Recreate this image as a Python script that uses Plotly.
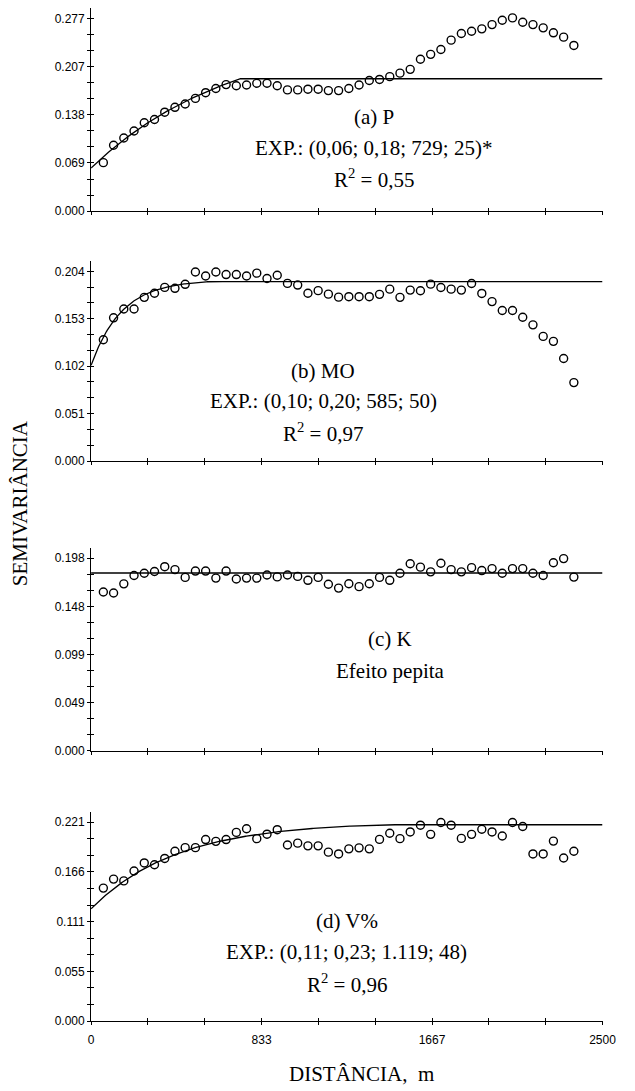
import numpy as np
import plotly.graph_objects as go

# Lag distances (m) of the experimental semivariograms
DIST = [60, 110, 160, 210, 260, 310, 360, 410, 460, 510,
        560, 610, 660, 710, 760, 810, 860, 910, 960, 1010,
        1060, 1110, 1160, 1210, 1260, 1310, 1360, 1410, 1460, 1510,
        1560, 1610, 1660, 1710, 1760, 1810, 1860, 1910, 1960, 2010,
        2060, 2110, 2160, 2210, 2260, 2310, 2360]

# Experimental semivariances
gamma_P = [0.0696, 0.0946, 0.105, 0.115, 0.1268, 0.1315, 0.142, 0.149, 0.1537, 0.1618,
           0.170, 0.176, 0.1816, 0.180, 0.181, 0.1835, 0.1835, 0.180, 0.174, 0.174,
           0.175, 0.175, 0.173, 0.173, 0.176, 0.181, 0.1875, 0.189, 0.193, 0.198,
           0.2035, 0.218, 0.225, 0.232, 0.2454, 0.2549, 0.2582, 0.2616, 0.2677, 0.274,
           0.2773, 0.271, 0.2677, 0.263, 0.2559, 0.2497, 0.2378]
gamma_MO = [0.1304, 0.154, 0.1635, 0.1635, 0.176, 0.1804, 0.1867, 0.1857, 0.190, 0.2033,
            0.199, 0.2033, 0.2005, 0.2005, 0.199, 0.202, 0.1963, 0.1998, 0.191, 0.1892,
            0.1804, 0.1832, 0.1794, 0.1762, 0.1767, 0.1767, 0.1767, 0.1792, 0.1848, 0.176,
            0.1838, 0.1831, 0.1902, 0.1866, 0.1848, 0.1838, 0.1909, 0.1802, 0.1714, 0.1618,
            0.1618, 0.1546, 0.1464, 0.134, 0.1287, 0.1102, 0.0843]
gamma_K = [0.163, 0.162, 0.1714, 0.180, 0.1823, 0.184, 0.189, 0.186, 0.178, 0.1845,
           0.1845, 0.1773, 0.1845, 0.1763, 0.1773, 0.1773, 0.1805, 0.1785, 0.1805, 0.179,
           0.175, 0.178, 0.171, 0.167, 0.1715, 0.1685, 0.1715, 0.178, 0.175, 0.1823,
           0.192, 0.1885, 0.1837, 0.1925, 0.186, 0.1837, 0.188, 0.185, 0.187, 0.1823,
           0.187, 0.187, 0.1823, 0.180, 0.193, 0.1973, 0.1783]
gamma_V = [0.148, 0.158, 0.156, 0.167, 0.176, 0.174, 0.181, 0.189, 0.193, 0.193,
           0.202, 0.200, 0.202, 0.210, 0.214, 0.203, 0.208, 0.213, 0.196, 0.198,
           0.195, 0.195, 0.188, 0.186, 0.1917, 0.1928, 0.1917, 0.2022, 0.209, 0.203,
           0.2105, 0.218, 0.2078, 0.221, 0.218, 0.2033, 0.2078, 0.2135, 0.2105, 0.206,
           0.221, 0.2165, 0.186, 0.186, 0.2003, 0.1815, 0.189]

# Fitted exponential models, drawn rising to the sill and flat beyond it:
# (nugget, sill, distance where the sill is reached, curvature distance), in m
model_P = (0.062, 0.190, 729, 700)
model_MO = (0.103, 0.193, 585, 150)
model_K = (0.1825, 0.1825, 1, 1)      # pure nugget effect
model_V = (0.125, 0.2185, 1430, 420)

# Axis tick labels
ytop = [0.2766, 0.204, 0.1976, 0.2213]
ytext = [["0.000", "0.069", "0.138", "0.207", "0.277"],
         ["0.000", "0.051", "0.102", "0.153", "0.204"],
         ["0.000", "0.049", "0.099", "0.148", "0.198"],
         ["0.000", "0.055", "0.111", "0.166", "0.221"]]
xtext = ["0", "833", "1667", "2500"]
XMAX = 2500

panel_text = [
    ["(a) P", "EXP.: (0,06; 0,18; 729; 25)*", "R<sup>2</sup> = 0,55"],
    ["(b) MO", "EXP.: (0,10; 0,20; 585; 50)", "R<sup>2</sup> = 0,97"],
    ["(c) K", "Efeito pepita"],
    ["(d) V%", "EXP.: (0,11; 0,23; 1.119; 48)", "R<sup>2</sup> = 0,96"],
]

W, H = 635, 1091
# pixel layout of each panel: (top of y axis, x axis line)
panel_px = [(8.3, 212.5), (263, 464), (551.7, 755.7), (817, 1027.7)]
x_px = (90.5, 616)
# text block centre x and line y positions (px)
text_px = [(381, [118, 149, 180]), (329, [373, 404, 435]),
           (398, [643, 675]), (353, [927, 958, 990])]

series = [gamma_P, gamma_MO, gamma_K, gamma_V]
models = [model_P, model_MO, model_K, model_V]

SERIF = "Liberation Serif, Times New Roman, serif"
SANS = "Liberation Sans, Arial, sans-serif"


def model_curve(h, nugget, sill, rng, b):
    rise = (1 - np.exp(-h / b)) / (1 - np.exp(-rng / b))
    return np.where(h < rng, nugget + (sill - nugget) * rise, sill)


fig = go.Figure()
layout = {}
xdom = [x_px[0] / W, x_px[1] / W]
xstep = XMAX / 9
xticks_all = [i * xstep for i in range(10)]
xticks_lab = [i * xstep for i in range(0, 10, 3)]
annotations = []
tickstyle = dict(tickcolor="black", tickwidth=1, ticklen=3)

for k in range(4):
    n = k + 1
    ov = k + 5
    top_px, bot_px = panel_px[k]
    ydom = [1 - bot_px / H, 1 - top_px / H]
    ymax = ytop[k] / 0.95
    ystep = ytop[k] / 12
    yticks_all = [j * ystep for j in range(13)]
    yticks_lab = [j * ystep for j in range(0, 13, 3)]
    last = k == 3

    sfx = "" if n == 1 else str(n)
    h = np.linspace(0, XMAX, 600)
    fig.add_trace(go.Scatter(x=h, y=model_curve(h, *models[k]), mode="lines",
                             line=dict(color="black", width=1.3),
                             xaxis="x" + sfx, yaxis="y" + sfx, showlegend=False,
                             hoverinfo="skip"))
    fig.add_trace(go.Scatter(x=DIST, y=series[k], mode="markers",
                             marker=dict(symbol="circle-open", size=8,
                                         color="black", line=dict(width=1.4)),
                             xaxis="x" + sfx, yaxis="y" + sfx, showlegend=False))
    # companion axes carrying the inner half of each tick mark
    fig.add_trace(go.Scatter(x=[None], y=[None], xaxis="x%d" % ov, yaxis="y%d" % ov,
                             showlegend=False))

    xa = dict(domain=xdom, anchor="y" + sfx, range=[0, XMAX], showgrid=False,
              zeroline=False, ticks="outside", showline=True, linecolor="black",
              linewidth=1, **tickstyle)
    if last:
        xa.update(tickmode="array", tickvals=xticks_lab, ticktext=xtext,
                  ticklabelstandoff=4,
                  tickfont=dict(family=SANS, size=12, color="black"),
                  minor=dict(tickmode="array", tickvals=xticks_all, ticks="outside",
                             **tickstyle))
    else:
        xa.update(tickmode="array", tickvals=xticks_all, showticklabels=False)
    layout["xaxis" + sfx] = xa

    layout["yaxis" + sfx] = dict(domain=ydom, anchor="x" + sfx, range=[0, ymax],
                                 showgrid=False, zeroline=False,
                                 tickmode="array", tickvals=yticks_lab, ticktext=ytext[k],
                                 ticks="outside", showline=True, linecolor="black",
                                 linewidth=1,
                                 tickfont=dict(family=SANS, size=12, color="black"),
                                 minor=dict(tickmode="array", tickvals=yticks_all,
                                            ticks="outside", **tickstyle),
                                 **tickstyle)
    layout["xaxis%d" % ov] = dict(domain=xdom, anchor="y%d" % ov, range=[0, XMAX],
                                  overlaying="x" + sfx, tickmode="array",
                                  tickvals=xticks_all, showticklabels=False,
                                  ticks="inside", showline=False, showgrid=False,
                                  zeroline=False, **tickstyle)
    layout["yaxis%d" % ov] = dict(domain=ydom, anchor="x%d" % ov, range=[0, ymax],
                                  overlaying="y" + sfx, tickmode="array",
                                  tickvals=yticks_all, showticklabels=False,
                                  ticks="inside", showline=False, showgrid=False,
                                  zeroline=False, **tickstyle)

    cx, ys = text_px[k]
    for line, ty in zip(panel_text[k], ys):
        annotations.append(dict(text=line, x=cx / W, y=1 - ty / H, xref="paper",
                                yref="paper", showarrow=False, xanchor="center",
                                yanchor="middle",
                                font=dict(family=SERIF, size=21, color="black")))

annotations.append(dict(text="DISTÂNCIA,  m", x=368 / W, y=1 - 1081 / H,
                        xref="paper", yref="paper", showarrow=False,
                        xanchor="center", yanchor="middle",
                        font=dict(family=SERIF, size=21, color="black")))
annotations.append(dict(text="SEMIVARIÂNCIA", x=17 / W, y=1 - 507 / H,
                        xref="paper", yref="paper", showarrow=False, textangle=-90,
                        xanchor="center", yanchor="middle",
                        font=dict(family=SERIF, size=21, color="black")))

fig.update_layout(width=W, height=H, margin=dict(l=0, r=0, t=0, b=0),
                  paper_bgcolor="white", plot_bgcolor="white",
                  annotations=annotations, **layout)

fig.write_html("out.html")
